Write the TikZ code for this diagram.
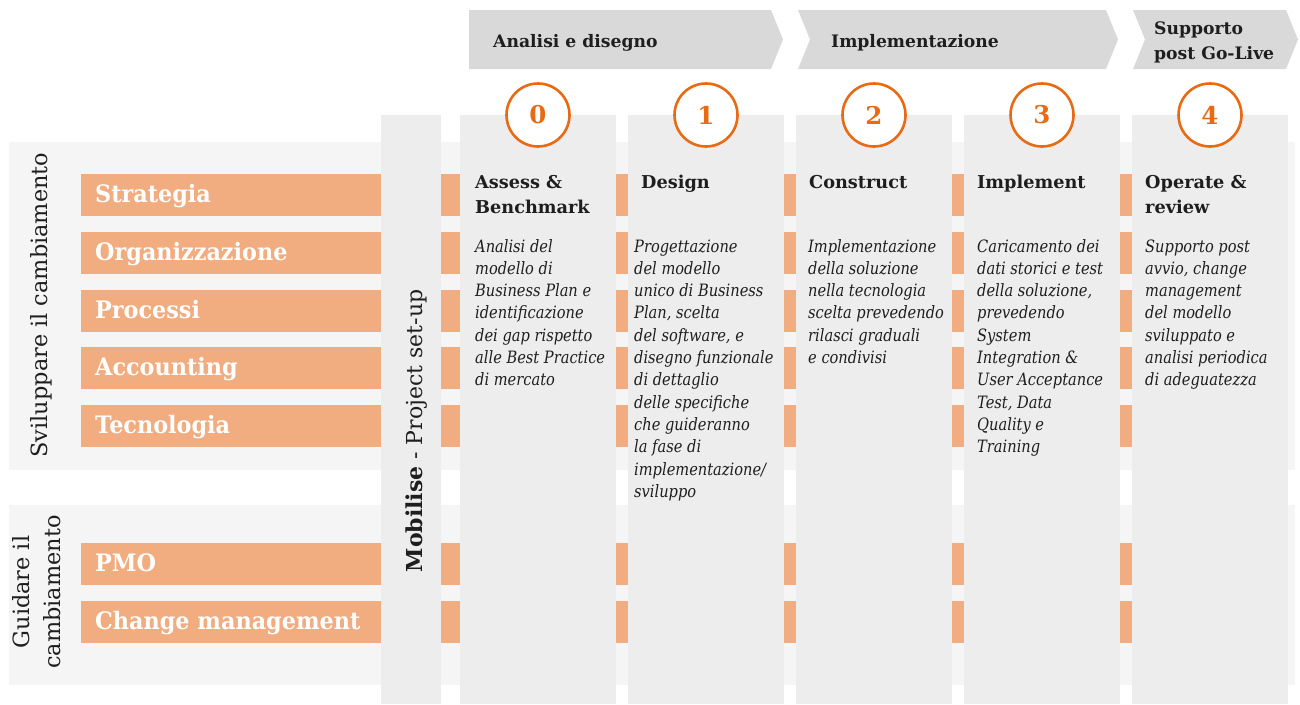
\documentclass[tikz,border=0pt]{standalone}
\usepackage{fontspec}
\setmainfont{DejaVu Serif}
\newfontfamily\narrowserif{DejaVu Serif}[FakeStretch=0.86]
\newfontfamily\rowserif{DejaVu Serif}[FakeStretch=0.93]
\definecolor{bandgray}{HTML}{F5F5F5}
\definecolor{colgray}{HTML}{EDEDED}
\definecolor{chevgray}{HTML}{D9D9D9}
\definecolor{barorange}{HTML}{F1AC80}
\definecolor{pwcorange}{HTML}{EA6A14}
\definecolor{txt}{HTML}{1E1E1E}
\tikzset{
  rowlabel/.style={anchor=base west, inner sep=0, text=white, font=\rowserif\fontsize{24}{28}\selectfont\bfseries},
  sidelabel/.style={rotate=90, inner sep=0, text=txt, align=center, font=\fontsize{22.4}{31}\selectfont},
  chevlabel/.style={anchor=base west, inner sep=0, text=txt, align=left, font=\fontsize{17.2}{25}\selectfont\bfseries},
  phasetitle/.style={anchor=base west, inner sep=0, text=txt, align=left, font=\fontsize{17.7}{25}\selectfont\bfseries},
  phasedesc/.style={anchor=base west, inner sep=0, text=txt},
  stepcircle/.style={circle, draw=pwcorange, line width=2.6pt, fill=white, minimum size=63pt, inner sep=0, text=pwcorange, font=\fontsize{24.5}{28}\selectfont\bfseries},
}
\newcommand{\descbox}[1]{\parbox[t]{170pt}{\narrowserif\fontsize{17}{22.3}\selectfont\itshape\raggedright #1}}
\begin{document}
\begin{tikzpicture}[x=1pt,y=-1pt]
\useasboundingbox (0,0) rectangle (1300,704);
\fill[white] (0,0) rectangle (1300,704);
% bands
\fill[bandgray] (9,142) rectangle (1295,470);
\fill[bandgray] (9,505) rectangle (1295,685);
% orange bars
\foreach \y in {174,232,290,347,405,543,601}{
  \fill[barorange] (81,\y) rectangle (1132,\y+42);
}
% mobilise column
\fill[colgray] (381,115) rectangle (441,704);
% phase columns
\foreach \x in {460,628,796,964,1132}{
  \fill[colgray] (\x,115) rectangle (\x+156,704);
}
% chevrons
\fill[chevgray] (469,10) coordinate (c1) -- (771,10) -- (783,39.5) -- (771,69) -- (469,69) -- cycle;
\fill[chevgray] (798,10) coordinate (c2) -- (1106,10) -- (1118,39.5) -- (1106,69) -- (798,69) -- (810,39.5) -- cycle;
\fill[chevgray] (1133,10) coordinate (c3) -- (1286,10) -- (1298,39.5) -- (1286,69) -- (1133,69) -- (1145,39.5) -- cycle;
\node[chevlabel] (h1) at (493,47) {Analisi e disegno};
\node[chevlabel] (h2) at (831,47) {Implementazione};
\node[chevlabel] (h3) at (1154,59) {Supporto\\post Go-Live};
% circles
\node[stepcircle] (n0) at (538,115) {0};
\node[stepcircle] (n1) at (706,115) {1};
\node[stepcircle] (n2) at (874,115) {2};
\node[stepcircle] (n3) at (1042,115) {3};
\node[stepcircle] (n4) at (1210,115) {4};
% row labels
\node[rowlabel] (r1) at (95,202) {Strategia};
\node[rowlabel] (r2) at (95,260) {Organizzazione};
\node[rowlabel] (r3) at (95,318) {Processi};
\node[rowlabel] (r4) at (95,375) {Accounting};
\node[rowlabel] (r5) at (95,433) {Tecnologia};
\node[rowlabel] (r6) at (95,571) {PMO};
\node[rowlabel] (r7) at (95,629) {Change management};
% side labels
\node[sidelabel, anchor=base] (s1) at (47,305) {Sviluppare il cambiamento};
\node[sidelabel, anchor=center] (s2) at (37,592) {Guidare il\\cambiamento};
\node[sidelabel, anchor=base, font=\fontsize{22}{28}\selectfont] (mob) at (422,431) {\textbf{Mobilise} - Project set-up};
% phase titles
\node[phasetitle] (t0) at (475,213) {Assess \&\\Benchmark};
\node[phasetitle] (t1) at (641,188) {Design};
\node[phasetitle] (t2) at (809,188) {Construct};
\node[phasetitle] (t3) at (977,188) {Implement};
\node[phasetitle] (t4) at (1145,213) {Operate \&\\review};
% descriptions
\node[phasedesc] (d0) at (475,252) {\descbox{Analisi del\\modello di\\Business Plan e\\identificazione\\dei gap rispetto\\alle Best Practice\\di mercato}};
\node[phasedesc] (d1) at (634,252) {\descbox{Progettazione\\del modello\\unico di Business\\Plan, scelta\\del software, e\\disegno funzionale\\di dettaglio\\delle specifiche\\che guideranno\\la fase di\\implementazione/\\sviluppo}};
\node[phasedesc] (d2) at (808,252) {\descbox{Implementazione\\della soluzione\\nella tecnologia\\scelta prevedendo\\rilasci graduali\\e condivisi}};
\node[phasedesc] (d3) at (977,252) {\descbox{Caricamento dei\\dati storici e test\\della soluzione,\\prevedendo\\System\\Integration \&\\User Acceptance\\Test, Data\\Quality e\\Training}};
\node[phasedesc] (d4) at (1145,252) {\descbox{Supporto post\\avvio, change\\management\\del modello\\sviluppato e\\analisi periodica\\di adeguatezza}};
\end{tikzpicture}
\end{document}
